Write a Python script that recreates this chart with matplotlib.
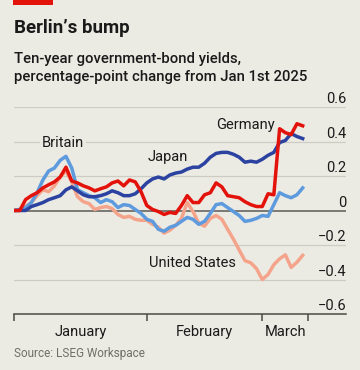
import matplotlib
matplotlib.use("Agg")
import matplotlib.pyplot as plt
import numpy as np

# business-day index from Jan 1st 2025, values are pp change in 10-year yields
germany = [0.0, 0.0, 0.063, 0.086, 0.103, 0.131, 0.149, 0.166, 0.194, 0.251,
           0.171, 0.160, 0.143, 0.131, 0.114, 0.126, 0.137, 0.160, 0.171, 0.143,
           0.177, 0.166, 0.109, 0.029, 0.006, -0.006, -0.023, -0.011, -0.017, 0.029,
           0.086, 0.046, 0.046, 0.091, 0.103, 0.160, 0.137, 0.086, 0.080, 0.074,
           0.051, 0.034, 0.023, 0.023, 0.097, 0.091, 0.474, 0.451, 0.440, 0.503,
           0.491]
japan = [0.0, 0.0, 0.0, 0.023, 0.034, 0.046, 0.063, 0.074, 0.086, 0.120,
         0.137, 0.114, 0.091, 0.080, 0.080, 0.086, 0.097, 0.114, 0.103, 0.086,
         0.086, 0.097, 0.126, 0.160, 0.183, 0.194, 0.183, 0.206, 0.217, 0.223,
         0.240, 0.251, 0.251, 0.274, 0.309, 0.331, 0.337, 0.337, 0.326, 0.309,
         0.280, 0.286, 0.280, 0.297, 0.320, 0.337, 0.394, 0.406, 0.446, 0.429,
         0.417]
britain = [0.0, 0.006, 0.017, 0.046, 0.103, 0.177, 0.229, 0.246, 0.291, 0.314,
           0.246, 0.120, 0.103, 0.086, 0.074, 0.046, 0.063, 0.051, 0.017, 0.034,
           0.029, 0.006, -0.017, -0.051, -0.063, -0.109, -0.120, -0.097, -0.086, -0.063,
           -0.040, -0.051, -0.080, -0.063, -0.017, 0.034, 0.040, 0.017, -0.006, -0.029,
           -0.063, -0.057, -0.046, -0.029, -0.034, 0.034, 0.103, 0.086, 0.074, 0.091,
           0.131]
united_states = [0.0, 0.006, 0.023, 0.046, 0.086, 0.120, 0.109, 0.143, 0.194, 0.229,
                 0.166, 0.080, 0.051, 0.040, 0.006, 0.017, 0.023, 0.011, -0.023, -0.040,
                 -0.034, -0.051, -0.057, -0.057, -0.080, -0.097, -0.131, -0.114, -0.086, -0.046,
                 0.046, -0.006, -0.074, -0.091, -0.046, -0.029, -0.051, -0.109, -0.166, -0.229,
                 -0.291, -0.303, -0.337, -0.400, -0.371, -0.314, -0.280, -0.257, -0.330, -0.300,
                 -0.260]

month_edges = [0, 23, 43, 51]
month_names = ["January", "February", "March"]
y_ticks = [0.6, 0.4, 0.2, 0, -0.2, -0.4, -0.6]

BG = "#ecebe3"
RED = "#e3120b"
NAVY = "#2b42a0"
LIGHT_BLUE = "#5e9ade"
SALMON = "#f5a48c"
INK = "#1a1a1a"

plt.rcParams["font.family"] = ["Roboto", "DejaVu Sans"]

fig = plt.figure(figsize=(3.6, 3.7), dpi=100, facecolor=BG)
ax = fig.add_axes([14 / 360, 56 / 370, 332 / 360, 207 / 370], facecolor=BG)

x = np.arange(len(germany))
ax.set_xlim(0, 57.5)
ax.set_ylim(-0.6, 0.6)

# gridlines + labels on the right
for v in y_ticks:
    if v == 0:
        ax.axhline(v, color="#5a5a55", lw=1.1, zorder=1)
    elif v != -0.6:
        ax.axhline(v, color="#cdccc4", lw=0.9, zorder=0)
    lab = "0" if v == 0 else f"{v:.1f}".replace("-", "\u2212")
    ax.text(57.5, v + 0.022, lab, ha="right", va="baseline", fontsize=10.5, color=INK)

lw = 2.5
ax.plot(x, united_states, color=SALMON, lw=lw, zorder=2)
ax.plot(x, britain, color=LIGHT_BLUE, lw=lw, zorder=3)
ax.plot(x, japan, color=NAVY, lw=lw, zorder=4)
ax.plot(x, germany, color=RED, lw=lw, zorder=5)

ax.text(8.5, 0.39, "Britain", ha="center", va="center", fontsize=10.5, color=INK,
        bbox=dict(facecolor=BG, edgecolor="none", pad=1.5), zorder=1.5)
ax.text(23.2, 0.31, "Japan", ha="left", va="center", fontsize=10.5, color=INK)
ax.text(35.0, 0.496, "Germany", ha="left", va="center", fontsize=10.5, color=INK)
ax.text(23.4, -0.304, "United States", ha="left", va="center", fontsize=10.5, color=INK)

for s in ["top", "right", "left"]:
    ax.spines[s].set_visible(False)
ax.spines["bottom"].set_color("#4a4a46")
ax.spines["bottom"].set_linewidth(1.1)
ax.set_yticks([])
ax.set_xticks(month_edges)
ax.set_xticklabels([])
ax.tick_params(axis="x", which="major", length=5, width=1.1, color="#4a4a46")
mids = [(a + b) / 2 for a, b in zip(month_edges[:-1], month_edges[1:])]
ax.set_xticks(mids, minor=True)
ax.set_xticklabels(month_names, minor=True, fontsize=10.5, color=INK)
ax.tick_params(axis="x", which="minor", length=0, pad=8)

fig.add_artist(plt.Rectangle((13 / 360, 365 / 370), 40 / 360, 5 / 370,
                             transform=fig.transFigure, color=RED, lw=0))
fig.text(14 / 360, 1 - 33 / 370, "Berlin\u2019s bump", fontsize=13.5, fontweight="bold",
         color=INK, va="baseline")
fig.text(14 / 360, 1 - 63 / 370, "Ten-year government-bond yields,", fontsize=10.7,
         fontweight="medium", color=INK, va="baseline")
fig.text(14 / 360, 1 - 81 / 370, "percentage-point change from Jan 1st 2025",
         fontsize=10.7, fontweight="medium", color=INK, va="baseline")
fig.text(14 / 360, 1 - 354 / 370, "Source: LSEG Workspace", fontsize=8.5,
         color="#6e6e6a", va="center")

fig.savefig("out.png", dpi=100, facecolor=BG)
